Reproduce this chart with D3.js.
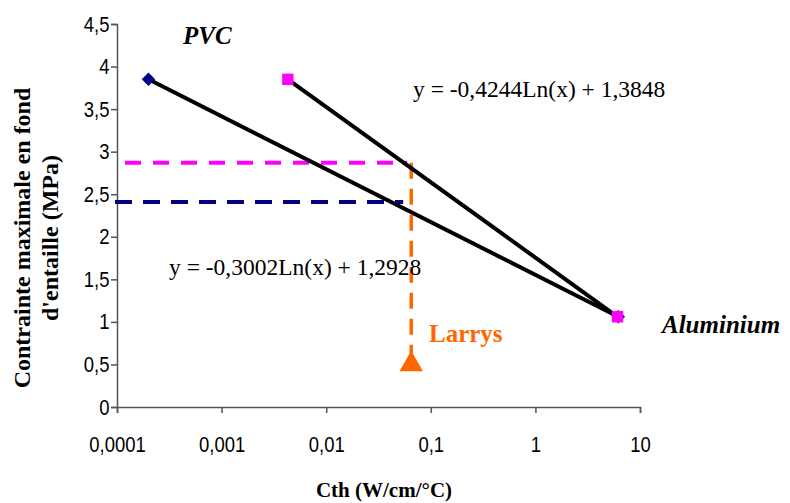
<!DOCTYPE html>
<html><head><meta charset="utf-8">
<script src="https://cdn.jsdelivr.net/npm/d3@7"></script>
<style>body{margin:0;background:#fff}svg{display:block}</style>
</head><body>
<svg id="c" width="790" height="503"></svg>
<script>
// ---- data ----
const pvcX = [0.0002, 6.2];
const pvcY = [3.85, 1.06];
const seriesBX = [0.0043, 6.1];
const seriesBY = [3.85, 1.06];
const larrysX = 0.065;
const larrysY = 0.5;
const pinkLevel = 2.87;
const blueLevel = 2.41;
const xTicks = [0.0001, 0.001, 0.01, 0.1, 1, 10];
const xTickLabels = ["0,0001", "0,001", "0,01", "0,1", "1", "10"];
const yTicks = [0, 0.5, 1, 1.5, 2, 2.5, 3, 3.5, 4, 4.5];
const yTickLabels = ["0", "0,5", "1", "1,5", "2", "2,5", "3", "3,5", "4", "4,5"];
const eqA = "y = -0,4244Ln(x) + 1,3848";
const eqB = "y = -0,3002Ln(x) + 1,2928";

const svg = d3.select("#c");
const x = d3.scaleLog().domain([0.0001, 10]).range([117, 640]);
const y = d3.scaleLinear().domain([0, 4.5]).range([407, 24]);

// axes
const xAxis = d3.axisBottom(x).tickValues(xTicks).tickFormat((d, i) => xTickLabels[i]).tickSize(6).tickPadding(27);
const gx = svg.append("g").attr("transform", "translate(0,407)").call(xAxis);
const yAxis = d3.axisLeft(y).tickValues(yTicks).tickFormat((d, i) => yTickLabels[i]).tickSize(6).tickPadding(3);
const gy = svg.append("g").attr("transform", "translate(117,0)").call(yAxis);
[gx, gy].forEach(g => {
  g.select(".domain").attr("stroke", "#555").attr("stroke-width", 1.5);
  g.selectAll(".tick line").attr("stroke", "#555").attr("stroke-width", 1.5);
  g.selectAll(".tick text").attr("font-family", "Liberation Sans, Arial, sans-serif").attr("font-size", 22)
    .attr("fill", "#000").attr("transform", "scale(0.84,1)");
});
gx.selectAll(".tick text").attr("dy", "0.55em");

// dashed guide lines
svg.append("line").attr("x1", x(0.0001)).attr("x2", x(larrysX) - 4)
  .attr("y1", y(pinkLevel)).attr("y2", y(pinkLevel))
  .attr("stroke", "#FF00FF").attr("stroke-width", 4).attr("stroke-dasharray", "16,12").attr("stroke-dashoffset", -8);
svg.append("line").attr("x1", x(0.0001) - 2).attr("x2", x(larrysX) - 8)
  .attr("y1", y(blueLevel)).attr("y2", y(blueLevel))
  .attr("stroke", "#000080").attr("stroke-width", 4).attr("stroke-dasharray", "17,11");
svg.append("line").attr("x1", x(larrysX)).attr("x2", x(larrysX))
  .attr("y1", y(pinkLevel)).attr("y2", y(larrysY) - 10)
  .attr("stroke", "#FF6600").attr("stroke-width", 3.5).attr("stroke-dasharray", "16,10");

// black lines
const line = d3.line().x(d => x(d[0])).y(d => y(d[1]));
svg.append("path").datum(pvcX.map((v, i) => [v, pvcY[i]])).attr("d", line)
  .attr("fill", "none").attr("stroke", "#000").attr("stroke-width", 4);
svg.append("path").datum(seriesBX.map((v, i) => [v, seriesBY[i]])).attr("d", line)
  .attr("fill", "none").attr("stroke", "#000").attr("stroke-width", 4);

// markers
svg.selectAll(".pvc").data(pvcX.map((v, i) => [v, pvcY[i]])).join("path")
  .attr("d", d3.symbol().type(d3.symbolSquare).size(90))
  .attr("transform", d => `translate(${x(d[0])},${y(d[1])}) rotate(45)`)
  .attr("fill", "#000080");
svg.selectAll(".sb").data(seriesBX.map((v, i) => [v, seriesBY[i]])).join("path")
  .attr("d", d3.symbol().type(d3.symbolSquare).size(130))
  .attr("transform", d => `translate(${x(d[0])},${y(d[1])})`)
  .attr("fill", "#FF00FF");
svg.append("path").attr("d", d3.symbol().type(d3.symbolTriangle).size(240))
  .attr("transform", `translate(${x(larrysX)},${y(larrysY)})`)
  .attr("fill", "#FF6600");

// labels
const serif = "Liberation Serif, Times New Roman, serif";
svg.append("text").attr("x", 183).attr("y", 44).text("PVC")
  .attr("font-family", serif).attr("font-size", 25).attr("font-weight", "bold").attr("font-style", "italic");
svg.append("text").attr("x", 662).attr("y", 333).text("Aluminium")
  .attr("font-family", serif).attr("font-size", 25).attr("font-weight", "bold").attr("font-style", "italic");
svg.append("text").attr("x", 429).attr("y", 342).text("Larrys").attr("fill", "#FF6600")
  .attr("font-family", serif).attr("font-size", 25).attr("font-weight", "bold");
svg.append("text").attr("x", 413).attr("y", 97).text(eqA)
  .attr("font-family", serif).attr("font-size", 23.5);
svg.append("text").attr("x", 169).attr("y", 275).text(eqB)
  .attr("font-family", serif).attr("font-size", 23.5);

// axis titles
svg.append("text").attr("x", 384).attr("y", 497).attr("text-anchor", "middle").text("Cth (W/cm/°C)")
  .attr("font-family", serif).attr("font-size", 21).attr("font-weight", "bold");
const yt = svg.append("text").attr("transform", "translate(0,238) rotate(-90)").attr("text-anchor", "middle")
  .attr("font-family", serif).attr("font-size", 24).attr("font-weight", "bold");
yt.append("tspan").attr("x", 0).attr("y", 30).text("Contrainte maximale en fond");
yt.append("tspan").attr("x", 0).attr("y", 58).text("d'entaille (MPa)");
</script>
</body></html>
